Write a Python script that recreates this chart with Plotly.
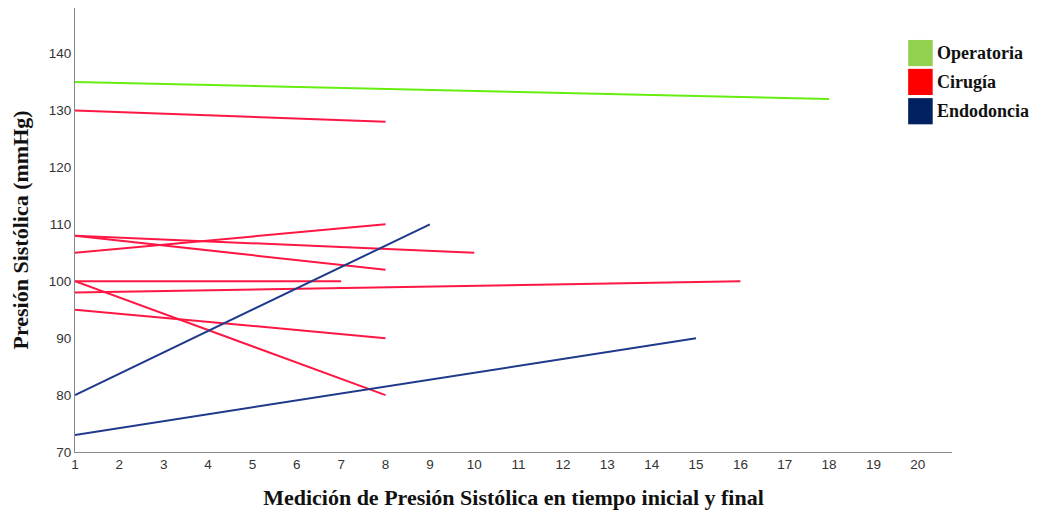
import plotly.graph_objects as go

# Data: each segment = (group, x_start, y_start, x_end, y_end)
groups = ["Operatoria", "Cirugía", "Cirugía", "Cirugía", "Cirugía", "Cirugía", "Cirugía", "Cirugía", "Cirugía",
          "Endodoncia", "Endodoncia"]
x_start = [1, 1, 1, 1, 1, 1, 1, 1, 1, 1, 1]
y_start = [135, 130, 105, 108, 108, 100, 98, 95, 100, 80, 73]
x_end = [18, 8, 8, 8, 10, 7, 16, 8, 8, 9, 15]
y_end = [132, 128, 110, 102, 105, 100, 100, 90, 80, 110, 90]

legend_names = ["Operatoria", "Cirugía", "Endodoncia"]
line_colors = {"Operatoria": "#66ee11", "Cirugía": "#ff1744", "Endodoncia": "#1f3a8c"}
legend_colors = {"Operatoria": "#92d050", "Cirugía": "#ff0000", "Endodoncia": "#002060"}

x_ticks = list(range(1, 21))
y_ticks = [70, 80, 90, 100, 110, 120, 130, 140]

fig = go.Figure()
for g, x0, y0, x1, y1 in zip(groups, x_start, y_start, x_end, y_end):
    fig.add_trace(go.Scatter(x=[x0, x1], y=[y0, y1], mode="lines",
                             line=dict(color=line_colors[g], width=2),
                             showlegend=False, hoverinfo="skip"))

# custom legend: squares + bold serif text
sq_tops = [0.928, 0.863, 0.797]
for name, top in zip(legend_names, sq_tops):
    fig.add_shape(type="rect", xref="paper", yref="paper",
                  x0=0.950, x1=0.978, y0=top - 0.059, y1=top,
                  fillcolor=legend_colors[name], line=dict(width=0))
    fig.add_annotation(xref="paper", yref="paper", x=0.981, y=top - 0.029,
                       text="<b>" + name + "</b>", showarrow=False,
                       xanchor="left", yanchor="middle",
                       font=dict(family="Liberation Serif", size=18, color="#111"))

fig.update_layout(
    width=1035, height=508,
    margin=dict(l=67, r=91, t=0, b=64),
    plot_bgcolor="white", paper_bgcolor="white",
    font=dict(family="Liberation Sans", size=13.5, color="#333"),
    xaxis=dict(range=[1, 20.77], tickvals=x_ticks, showgrid=False, zeroline=False,
               showline=True, linecolor="#888", linewidth=1, ticks="",
               title=dict(text="<b>Medición de Presión Sistólica en tiempo inicial y final</b>",
                          font=dict(family="Liberation Serif", size=22, color="#111"),
                          standoff=18)),
    yaxis=dict(range=[70, 148], tickvals=y_ticks, showgrid=False, zeroline=False,
               showline=True, linecolor="#888", linewidth=1, ticks="",
               title=dict(text="<b>Presión Sistólica (mmHg)</b>",
                          font=dict(family="Liberation Serif", size=22, color="#111"),
                          standoff=16)),
)

fig.write_html("out.html")
